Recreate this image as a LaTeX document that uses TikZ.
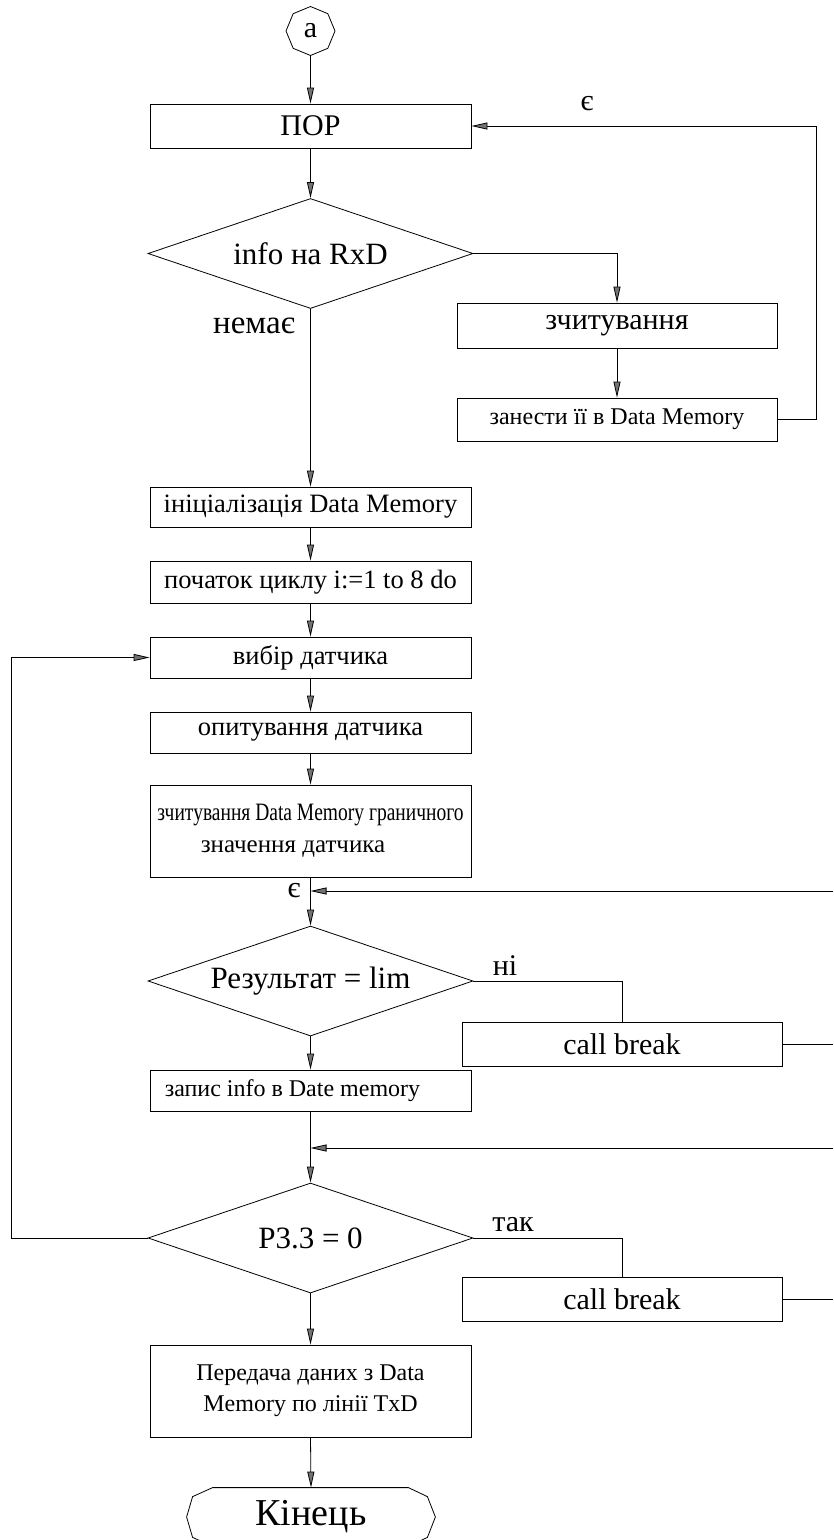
\documentclass[tikz,border=0pt]{standalone}
\usepackage{fontspec}
\setmainfont{Liberation Serif}
\usetikzlibrary{shapes.geometric,arrows.meta,calc}
\begin{document}
\begin{tikzpicture}[x=1pt,y=-1pt,
  line width=0.8pt,
  >={Triangle[length=16pt,width=7pt,fill=black!55]},
  box/.style={draw, rectangle, minimum width=321pt, inner sep=0pt, align=center},
  dec/.style={draw, diamond, aspect=3, inner sep=0pt, minimum width=325pt,
              minimum height=110pt, font=\fontsize{31}{36}\selectfont},
  big/.style={font=\fontsize{30}{34}\selectfont},
  mid/.style={font=\fontsize{25}{30}\selectfont},
  small/.style={font=\fontsize{24}{29}\selectfont},
  step box/.style={font=\fontsize{26.5}{31}\selectfont},
  lbl/.style={font=\fontsize{30}{34}\selectfont, inner sep=0pt}
]
\useasboundingbox (0,0) rectangle (833,1540);
\clip (0,0) rectangle (833,1540);

% main column
\node[draw, regular polygon, regular polygon sides=8, shape border rotate=22.5,
      minimum size=49pt, inner sep=0pt, big] (a) at (310.5,31) {a};
\node[box, big, minimum height=44pt] (por) at (310.5,126) {ПОР};
\node[dec] (d1) at (310.5,253.5) {info на RxD};
\node[box, big, minimum width=320pt, minimum height=45pt] (read) at (617,325.5) {зчитування};
\node[box, small, minimum width=320pt, minimum height=43pt] (store) at (617,419.5) {занести її в Data Memory};
\node[box, step box, minimum height=40pt] (init) at (310.5,507) {ініціалізація Data Memory};
\node[box, step box, minimum height=42pt] (loop) at (310.5,582) {початок циклу i:=1 to 8 do};
\node[box, step box, minimum height=41pt] (sel) at (310.5,657.5) {вибір датчика};
\node[box, step box, minimum height=41pt] (poll) at (310.5,732.5) {опитування датчика};
\node[box, mid, minimum height=92pt] (lim) at (310.5,831)
  {\scalebox{0.78}[1]{зчитування Data Memory граничного}\\[2pt]значення датчика\hspace*{35pt}};
\node[dec] (d2) at (310.5,981) {Результат = lim};
\node[box, big, minimum width=320pt, minimum height=44pt] (cb1) at (622,1044) {call break};
\node[box, small, minimum height=41pt] (rec) at (310.5,1090.5) {запис info в Date memory\hspace*{36pt}};
\node[dec] (d3) at (310.5,1238) {P3.3 = 0};
\node[box, big, minimum width=320pt, minimum height=44pt] (cb2) at (622,1299) {call break};
\node[box, small, minimum height=92pt] (tx) at (310.5,1391) {Передача даних з Data\\[2pt]Memory по лінії TxD};
\node[minimum width=248pt, minimum height=58pt, inner sep=0pt,
      font=\fontsize{38}{42}\selectfont] (end) at (311,1517) {Кінець};
\draw ($(end.north west)+(26,0)$) -- ($(end.north east)+(-27,0)$)
  -- ($(end.north east)+(-8,9)$) -- (end.east) -- ($(end.south east)+(-8,-9)$)
  -- ($(end.south east)+(-27,0)$) -- ($(end.south west)+(26,0)$)
  -- ($(end.south west)+(6,-9)$) -- (end.west) -- ($(end.north west)+(6,9)$) -- cycle;

% labels
\node[lbl] (yes1) at (587,104) {є};
\node[lbl, font=\fontsize{33}{36}\selectfont] (no1) at (254,326) {немає};
\node[lbl] (yes2) at (294,891) {є};
\node[lbl] (no2) at (505,966) {ні};
\node[lbl] (yes3) at (513,1225) {так};

% free ends at the right margin
\coordinate (j1) at (310.5,891);
\coordinate (r1) at (833,891);
\coordinate (j2) at (310.5,1148);
\coordinate (r2) at (833,1148);

% connectors
\draw[->] (a) -- (por);
\draw[->] (por) -- (d1);
\draw[->] (d1.east) -| (read.north);
\draw[->] (read) -- (store);
\draw[->] (store.east) -- ++(39,0) |- (por.east);
\draw[->] (d1.south) -- (init.north);
\draw[->] (init) -- (loop);
\draw[->] (loop) -- (sel);
\draw[->] (sel) -- (poll);
\draw[->] (poll) -- (lim);
\draw[->] (lim.south) -- (d2.north);
\draw[->] (r1) -- (j1);
\draw (d2.east) -| (cb1.north);
\draw (cb1.east) -- (cb1.east -| r1);
\draw[->] (d2.south) -- (rec.north);
\draw[->] (rec.south) -- (d3.north);
\draw[->] (r2) -- (j2);
\draw (d3.east) -| (cb2.north);
\draw (cb2.east) -- (cb2.east -| r2);
\draw[->] (d3.west) -- ++(-136,0) |- (sel.west);
\draw[->] (d3.south) -- (tx.north);
\draw[->] (tx.south) -- (end.north);
\end{tikzpicture}
\end{document}
